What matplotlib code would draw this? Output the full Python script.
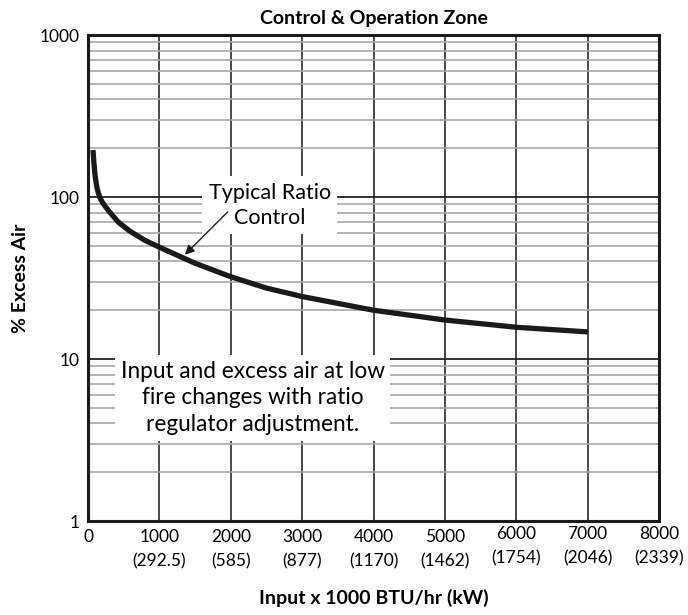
import matplotlib
matplotlib.use("Agg")
import matplotlib.pyplot as plt
import matplotlib.transforms as mtransforms
from matplotlib.ticker import FixedLocator, NullFormatter, LogLocator

plt.rcParams['font.family'] = ['Lato', 'DejaVu Sans']

# Data
input_kbtu = [70, 84, 98, 112, 126, 145, 168, 200, 238, 300, 424, 587, 797, 1000,
              1500, 2000, 2500, 3000, 4000, 5000, 6000, 7000]
excess_air = [195, 160, 137, 124, 114, 106, 99, 93, 88, 81, 70, 61.5, 54, 49,
              39, 32.2, 27.4, 24.3, 20.0, 17.4, 15.7, 14.7]

x_ticks = [0, 1000, 2000, 3000, 4000, 5000, 6000, 7000, 8000]
x_tick_labels = ["0", "1000\n(292.5)", "2000\n(585)", "3000\n(877)", "4000\n(1170)",
                 "5000\n(1462)", "6000\n(1754)", "7000\n(2046)", "8000\n(2339)"]
y_ticks = [1, 10, 100, 1000]
y_tick_labels = ["1", "10", "100", "1000"]

fig = plt.figure(figsize=(6.88, 6.15), dpi=100)
ax = fig.add_axes([88/688, 94/615, 571/688, 486/615])

ax.set_yscale('log')
ax.set_xlim(0, 8000)
ax.set_ylim(1, 1000)

# grid
ax.xaxis.set_major_locator(FixedLocator(x_ticks))
ax.yaxis.set_major_locator(FixedLocator(y_ticks))
ax.yaxis.set_minor_locator(LogLocator(base=10, subs=range(2, 10)))
ax.yaxis.set_minor_formatter(NullFormatter())
ax.grid(True, axis='x', which='major', color='#3a3a3a', lw=1.3)
ax.grid(True, axis='y', which='major', color='#222222', lw=1.3)
ax.grid(True, axis='y', which='minor', color='#a8a8a8', lw=1.2)
ax.set_axisbelow(True)

ax.set_xticklabels(x_tick_labels, fontsize=12.5, linespacing=1.6)
ax.set_yticklabels(y_tick_labels, fontsize=12.5)
ax.tick_params(axis='both', which='both', length=0)
ax.tick_params(axis='x', pad=6)
ax.tick_params(axis='y', pad=6)

# labels 6000-8000 sit slightly higher in the original
raise_tr = mtransforms.ScaledTranslation(0, 3/100, fig.dpi_scale_trans)
for tick, val in zip(ax.xaxis.get_major_ticks(), x_ticks):
    if val >= 6000:
        tick.label1.set_transform(tick.label1.get_transform() + raise_tr)

for s in ax.spines.values():
    s.set_linewidth(2.2)
    s.set_color('#1a1a1a')

ax.plot(input_kbtu, excess_air, color='#1a1a1a', lw=3.8, solid_capstyle='butt',
        solid_joinstyle='round', zorder=5)

ax.set_title("Control & Operation Zone", fontsize=14, fontweight='bold', pad=8)
ax.set_xlabel("Input x 1000 BTU/hr (kW)", fontsize=14, fontweight='bold', labelpad=14)
ax.set_ylabel("% Excess Air", fontsize=14, fontweight='bold', labelpad=8)

# annotations
ax.text(2545, 89, "Typical Ratio\nControl", ha='center', va='center',
        fontsize=15.5, linespacing=1.3,
        bbox=dict(boxstyle='square,pad=0.3', fc='white', ec='none'), zorder=6)
ax.annotate("", xy=(1357, 44), xytext=(1958, 81),
            arrowprops=dict(arrowstyle='-|>', color='#1a1a1a', lw=1.0,
                            shrinkA=0, shrinkB=0, mutation_scale=14),
            zorder=7)

ax.text(2308, 5.75, "Input and excess air at low\nfire changes with ratio\nregulator adjustment.",
        ha='center', va='center', fontsize=16.3, linespacing=1.32,
        bbox=dict(boxstyle='square,pad=0.25', fc='white', ec='none'), zorder=6)

fig.savefig("out.png", dpi=100)
